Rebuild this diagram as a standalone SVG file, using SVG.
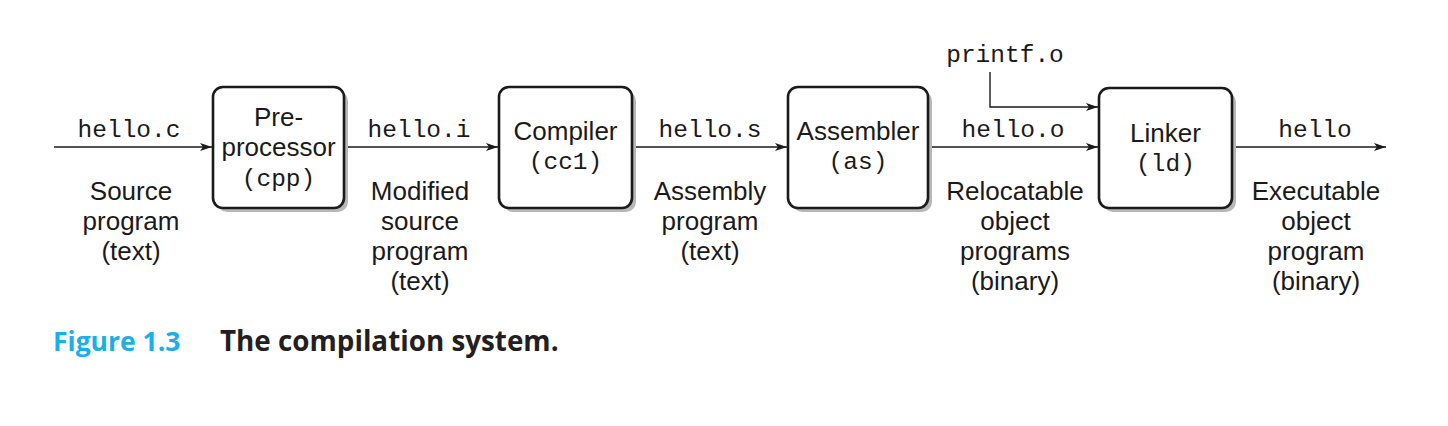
<svg xmlns="http://www.w3.org/2000/svg" width="1448" height="426" viewBox="0 0 1448 426">
<style>
.box{fill:#fff;stroke:#1a1a1a;stroke-width:2.6}
.shadow{fill:#b8b8b8}
.sans{font-family:"Liberation Sans",Arial,sans-serif;font-size:26px;fill:#1a1a1a;text-anchor:middle}
.mono{font-family:"Liberation Mono","Courier New",monospace;font-size:24.5px;fill:#1a1a1a;text-anchor:middle}
.edge{stroke:#1a1a1a;stroke-width:1.4;fill:none}
.cap{font-family:"Open Sans","Liberation Sans",sans-serif;font-weight:bold}
</style>
<defs>
<marker id="ah" viewBox="0 0 12 8" refX="12" refY="4" markerWidth="12" markerHeight="8" markerUnits="userSpaceOnUse" orient="auto">
<path d="M0,0 L12,4 L0,8 L3,4 Z" fill="#1a1a1a"/>
</marker>
</defs>
<rect width="1448" height="426" fill="#fff"/>
<g id="connectors">
<line class="edge" x1="54" y1="147" x2="212" y2="147" marker-end="url(#ah)"/>
<line class="edge" x1="344" y1="147" x2="498" y2="147" marker-end="url(#ah)"/>
<line class="edge" x1="632" y1="147" x2="787" y2="147" marker-end="url(#ah)"/>
<line class="edge" x1="928" y1="147" x2="1098" y2="147" marker-end="url(#ah)"/>
<line class="edge" x1="1232" y1="147" x2="1386" y2="147" marker-end="url(#ah)"/>
<path class="edge" d="M990,72 V107 H1098" marker-end="url(#ah)"/>
</g>
<g id="edge-labels">
<text class="mono" x="129" y="137">hello.c</text>
<text class="sans" x="131" y="200">Source</text>
<text class="sans" x="131" y="230">program</text>
<text class="sans" x="131" y="260">(text)</text>
<text class="mono" x="419" y="137">hello.i</text>
<text class="sans" x="420" y="200">Modified</text>
<text class="sans" x="420" y="230">source</text>
<text class="sans" x="420" y="260">program</text>
<text class="sans" x="420" y="290">(text)</text>
<text class="mono" x="710" y="137">hello.s</text>
<text class="sans" x="710" y="200">Assembly</text>
<text class="sans" x="710" y="230">program</text>
<text class="sans" x="710" y="260">(text)</text>
<text class="mono" x="1005" y="62">printf.o</text>
<text class="mono" x="1013" y="137">hello.o</text>
<text class="sans" x="1015" y="200">Relocatable</text>
<text class="sans" x="1015" y="230">object</text>
<text class="sans" x="1015" y="260">programs</text>
<text class="sans" x="1015" y="290">(binary)</text>
<text class="mono" x="1315" y="137">hello</text>
<text class="sans" x="1316" y="200">Executable</text>
<text class="sans" x="1316" y="230">object</text>
<text class="sans" x="1316" y="260">program</text>
<text class="sans" x="1316" y="290">(binary)</text>
</g>
<g id="preprocessor">
<rect class="shadow" x="217" y="91" width="131" height="121" rx="10"/>
<rect class="box" x="213" y="87" width="131" height="121" rx="10"/>
<text class="sans" x="278.5" y="126">Pre-</text>
<text class="sans" x="278.5" y="156">processor</text>
<text class="mono" x="278.5" y="186">(cpp)</text>
</g>
<g id="compiler">
<rect class="shadow" x="503" y="91" width="133" height="121" rx="10"/>
<rect class="box" x="499" y="87" width="133" height="121" rx="10"/>
<text class="sans" x="565.5" y="140">Compiler</text>
<text class="mono" x="565.5" y="169">(cc1)</text>
</g>
<g id="assembler">
<rect class="shadow" x="792" y="91" width="140" height="121" rx="10"/>
<rect class="box" x="788" y="87" width="140" height="121" rx="10"/>
<text class="sans" x="858" y="140">Assembler</text>
<text class="mono" x="858" y="169">(as)</text>
</g>
<g id="linker">
<rect class="shadow" x="1103" y="92" width="133" height="120" rx="10"/>
<rect class="box" x="1099" y="88" width="133" height="120" rx="10"/>
<text class="sans" x="1165.5" y="142">Linker</text>
<text class="mono" x="1165.5" y="171">(ld)</text>
</g>
<g id="caption">
<text class="cap" x="53" y="351" font-size="26.5" fill="#1aaeea">Figure 1.3</text>
<text class="cap" x="220" y="351" font-size="27.8" fill="#231f20">The compilation system.</text>
</g>
</svg>
